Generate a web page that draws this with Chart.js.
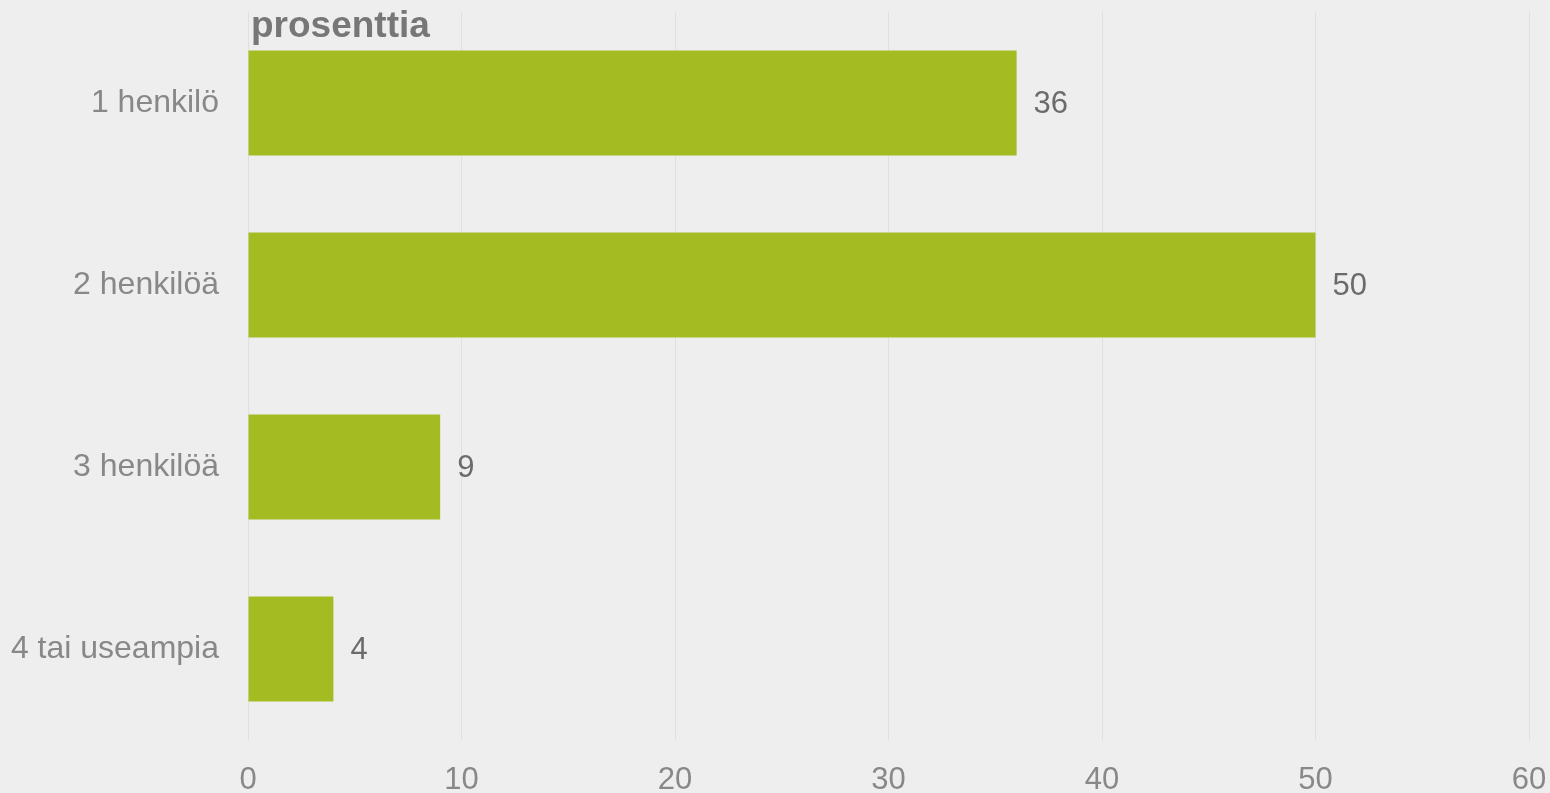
<!DOCTYPE html>
<html lang="fi">
<head>
    <meta charset="UTF-8">
    <title>Kotitalouden koko</title>
    <script src="https://cdn.jsdelivr.net/npm/chart.js"></script>
    <style>
        body {
            margin: 0;
            background: #eeeeee;
        }
        .wrap {
            width: 1550px;
            height: 793px;
        }
    </style>
</head>
<body>
    <div class="wrap">
        <canvas id="sizeChart"></canvas>
    </div>

    <script>
        const categories = ['1 henkilö', '2 henkilöä', '3 henkilöä', '4 tai useampia'];
        const shares = [36, 50, 9, 4];
        const xTicks = [0, 10, 20, 30, 40, 50, 60];
        const unitLabel = 'prosenttia';

        const font = 'Liberation Sans, Arial, sans-serif';

        // drop the automatic label overhang so the plot edges stay put
        function noOverhang(s) {
            s.paddingTop = 0;
            s.paddingBottom = 0;
            s.paddingLeft = 0;
            s.paddingRight = 0;
        }

        // value labels to the right of each bar
        const valueLabels = {
            id: 'valueLabels',
            afterDatasetsDraw(chart) {
                const c = chart.ctx;
                const meta = chart.getDatasetMeta(0);
                c.save();
                c.font = '31px ' + font;
                c.fillStyle = '#6b6b6b';
                c.textAlign = 'left';
                c.textBaseline = 'middle';
                meta.data.forEach((bar, i) => {
                    c.fillText(String(shares[i]), bar.x + 17, bar.y + 1);
                });
                c.restore();
            }
        };

        // "prosenttia" at the top left of the plot
        const unitTitle = {
            id: 'unitTitle',
            afterDraw(chart) {
                const c = chart.ctx;
                c.save();
                c.font = 'bold 37px ' + font;
                c.fillStyle = '#777777';
                c.textAlign = 'left';
                c.textBaseline = 'alphabetic';
                c.fillText(unitLabel, chart.chartArea.left + 3, 37);
                c.restore();
            }
        };

        const ctx = document.getElementById('sizeChart').getContext('2d');
        const chart = new Chart(ctx, {
            type: 'bar',
            data: {
                labels: categories,
                datasets: [{
                    data: shares,
                    backgroundColor: '#a4bc22',
                    borderWidth: 0,
                    categoryPercentage: 1,
                    barPercentage: 0.577
                }]
            },
            options: {
                indexAxis: 'y',
                responsive: true,
                maintainAspectRatio: false,
                animation: false,
                layout: { padding: { top: 12, right: 21, left: 0, bottom: 0 } },
                plugins: {
                    legend: { display: false },
                    tooltip: { enabled: false }
                },
                scales: {
                    x: {
                        min: xTicks[0],
                        max: xTicks[xTicks.length - 1],
                        afterBuildTicks: s => { s.ticks = xTicks.map(v => ({ value: v })); },
                        afterFit: s => { s.height = 53; noOverhang(s); },
                        border: { display: false },
                        grid: { color: '#e0e0e0', lineWidth: 1, drawTicks: false },
                        ticks: {
                            padding: 22,
                            color: '#888888',
                            font: { family: font, size: 31 }
                        }
                    },
                    y: {
                        afterFit: s => { s.width = 248; noOverhang(s); },
                        border: { display: false },
                        grid: { display: false, drawTicks: false },
                        ticks: {
                            padding: 29,
                            color: '#888888',
                            font: { family: font, size: 32 }
                        }
                    }
                }
            },
            plugins: [valueLabels, unitTitle]
        });
    </script>
</body>
</html>
